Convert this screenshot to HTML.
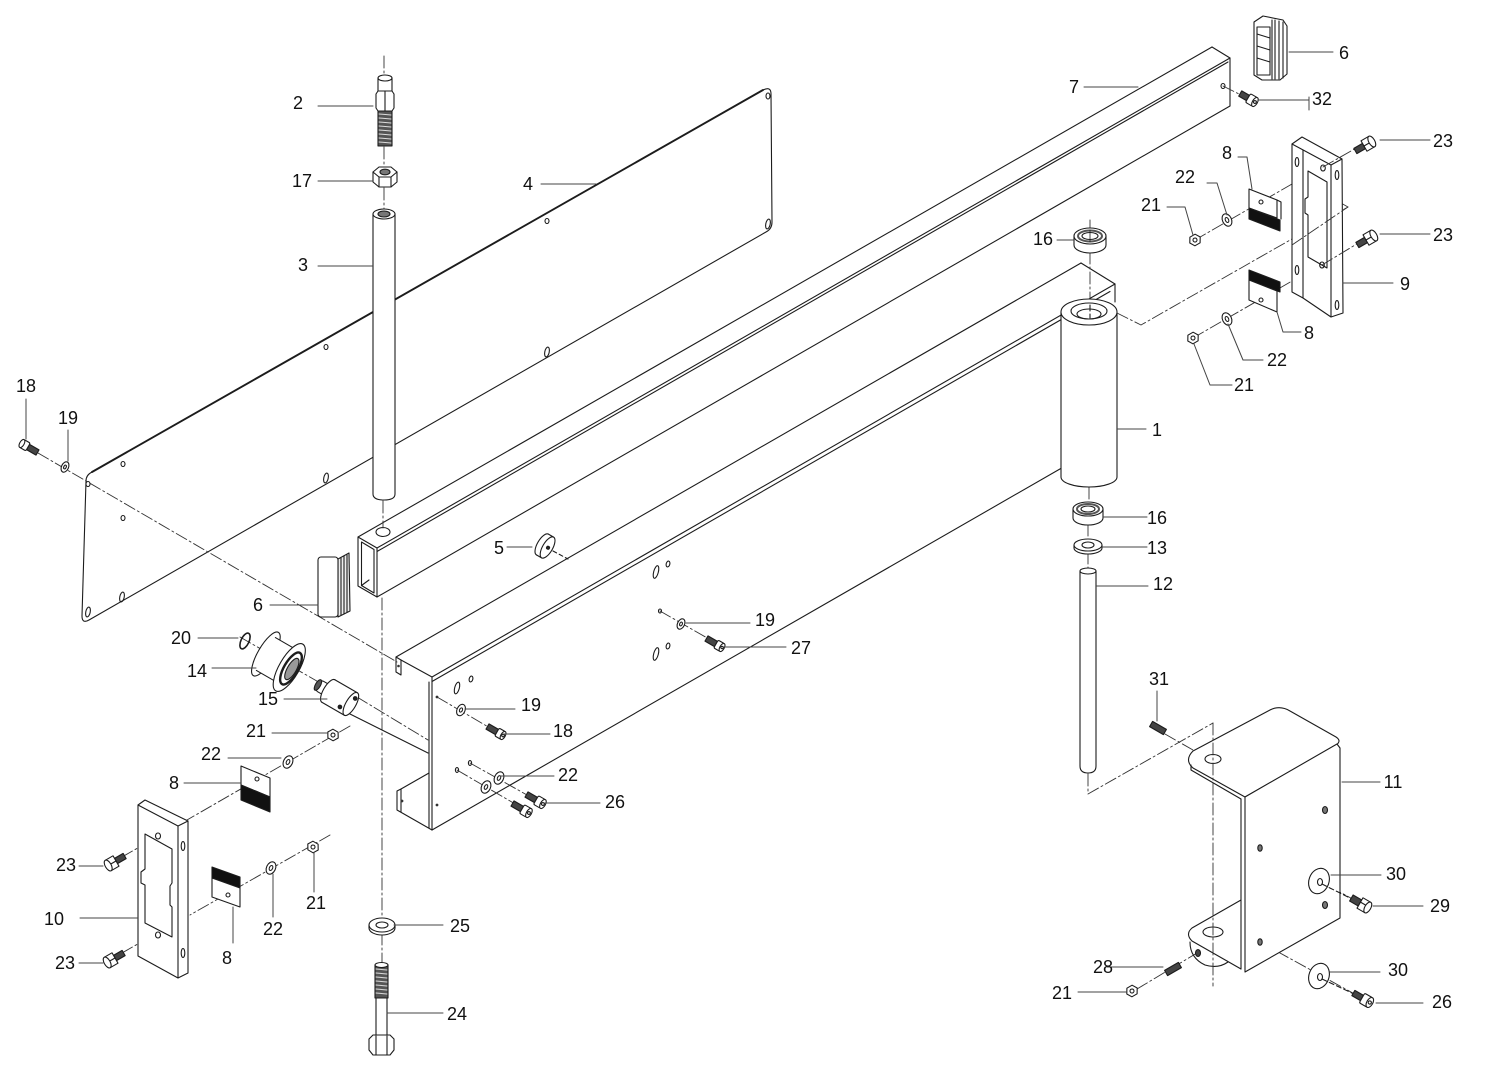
<!DOCTYPE html>
<html><head><meta charset="utf-8">
<style>html,body{margin:0;padding:0;background:#fff}svg{display:block}</style>
</head>
<body>
<svg width="1500" height="1086" viewBox="0 0 1500 1086" xmlns="http://www.w3.org/2000/svg">
<rect width="1500" height="1086" fill="#fff"/>
<g fill="none" stroke="#1c1c1c" stroke-width="1.1" stroke-linejoin="round" stroke-linecap="round">

<!-- Plate 4 -->
<path d="M92,472 L763,90 Q771,86 771,94 L772,222 Q772,229 766,232 L89,620 Q82,624 82,616 L86,481 Q86,475 92,472 Z" fill="#fff"/>
<path d="M92,472 L763,90" stroke-width="1.9"/>
<ellipse cx="123" cy="464" rx="2" ry="2.5"/>
<ellipse cx="123" cy="518" rx="2" ry="2.5"/>
<ellipse cx="326" cy="347" rx="2" ry="2.5"/>
<ellipse cx="326" cy="478" rx="2.2" ry="5" transform="rotate(12 326 478)"/>
<ellipse cx="547" cy="221" rx="2" ry="2.5"/>
<ellipse cx="547" cy="352" rx="2.2" ry="5" transform="rotate(12 547 352)"/>
<ellipse cx="768" cy="96" rx="2" ry="3"/>
<ellipse cx="768" cy="224" rx="2.2" ry="5" transform="rotate(12 768 224)"/>
<ellipse cx="122" cy="597" rx="2.2" ry="5" transform="rotate(12 122 597)"/>
<ellipse cx="88" cy="484" rx="2" ry="2.5"/>
<ellipse cx="88" cy="612" rx="2.2" ry="5" transform="rotate(12 88 612)"/>

<!-- Bar 7 -->
<line x1="358" y1="537" x2="1212" y2="47"/>
<line x1="377" y1="548" x2="1230" y2="58"/>
<line x1="377" y1="551.5" x2="1228" y2="62"/>
<line x1="377" y1="597" x2="1230" y2="106"/>
<path d="M1212,47 L1230,58 L1230,106"/>
<ellipse cx="1223" cy="86" rx="2" ry="2.5"/>
<path d="M358,537 L377,548 L377,597 L358,586 Z" fill="#fff"/>
<path d="M361.5,542 L374,549.5 L374,593 L361.5,585.5 Z"/>
<line x1="361.5" y1="585.5" x2="369" y2="580"/>
<ellipse cx="383" cy="532" rx="7" ry="4.5" fill="#fff"/>

<!-- Frame -->
<line x1="396" y1="657" x2="1081" y2="263"/>
<path d="M1081,263 L1115,284 L1115,302"/>
<line x1="432" y1="677" x2="1115" y2="284"/>
<line x1="432" y1="681.5" x2="1110" y2="291.5"/>
<line x1="432" y1="830" x2="1066" y2="465.5"/>
<path d="M396,657 L401,660 L401,675 L396,672 Z" fill="#fff"/>
<circle cx="398.5" cy="666" r="1.3" fill="#333" stroke="none"/>
<line x1="401" y1="660" x2="432" y2="677"/>
<line x1="432" y1="677" x2="432" y2="830"/>
<line x1="429" y1="682" x2="429" y2="828"/>
<path d="M429,773 L401,789 L397,791 L397,810 L432,830"/>
<line x1="401" y1="789" x2="401" y2="812"/>
<circle cx="402" cy="801" r="1.4" fill="#333" stroke="none"/>
<circle cx="437" cy="697" r="1.4" fill="#333" stroke="none"/>
<circle cx="437" cy="805" r="1.4" fill="#333" stroke="none"/>
<ellipse cx="457" cy="688" rx="2.3" ry="6" transform="rotate(15 457 688)"/>
<ellipse cx="471" cy="679" rx="1.8" ry="3" transform="rotate(15 471 679)"/>
<ellipse cx="656" cy="572" rx="2.3" ry="6.5" transform="rotate(15 656 572)"/>
<ellipse cx="668" cy="564" rx="1.8" ry="3" transform="rotate(15 668 564)"/>
<ellipse cx="656" cy="654" rx="2.3" ry="6.5" transform="rotate(15 656 654)"/>
<ellipse cx="668" cy="646" rx="1.8" ry="3" transform="rotate(15 668 646)"/>
<ellipse cx="660" cy="611" rx="1.5" ry="2"/>
<ellipse cx="457" cy="770" rx="1.6" ry="2.4"/>
<ellipse cx="470" cy="763" rx="1.6" ry="2.4"/>
<line x1="553" y1="551" x2="568" y2="559" stroke-dasharray="4 3"/>

<!-- Dash-dot centre lines -->
<g stroke="#333" stroke-width="0.9" stroke-dasharray="12 3 2 3">
  <line x1="384" y1="56" x2="384" y2="74"/>
  <line x1="384" y1="147" x2="384" y2="166"/>
  <line x1="384" y1="188" x2="384" y2="209"/>
  <line x1="383" y1="501" x2="383" y2="528"/>
  <line x1="382" y1="598" x2="382" y2="917"/>
  <line x1="382" y1="933" x2="382" y2="962"/>
  <line x1="38" y1="453" x2="397" y2="662"/>
  <line x1="240" y1="637" x2="322" y2="684"/>
  <line x1="357" y1="697" x2="428" y2="740"/>
  <line x1="350" y1="726" x2="187" y2="820"/>
  <line x1="330" y1="835" x2="190" y2="915"/>
  <line x1="122" y1="857" x2="157" y2="837"/>
  <line x1="122" y1="953" x2="157" y2="933"/>
  <line x1="437" y1="697" x2="497" y2="732"/>
  <line x1="457" y1="770" x2="522" y2="808"/>
  <line x1="470" y1="763" x2="536" y2="800"/>
  <line x1="660" y1="611" x2="716" y2="643"/>
  <line x1="1223" y1="86" x2="1245" y2="97"/>
  <line x1="1090" y1="220" x2="1090" y2="230"/>
  <line x1="1090" y1="252" x2="1090" y2="303"/>
  <line x1="1089" y1="487" x2="1089" y2="503"/>
  <line x1="1088" y1="524" x2="1088" y2="540"/>
  <line x1="1088" y1="552" x2="1088" y2="569"/>
  <line x1="1088" y1="774" x2="1088" y2="794"/>
  <line x1="1088" y1="794" x2="1213" y2="723"/>
  <line x1="1195" y1="240" x2="1292" y2="184"/>
  <line x1="1193" y1="338" x2="1292" y2="281"/>
  <line x1="1165" y1="734" x2="1193" y2="750"/>
  <line x1="1137" y1="989" x2="1197" y2="953"/>
  <line x1="1260" y1="848" x2="1358" y2="902"/>
  <line x1="1260" y1="942" x2="1360" y2="997"/>
</g>
<line x1="342" y1="710" x2="428" y2="753"/>

<!-- Pillar 1 -->
<path d="M1061,312 V477 A28,10 0 0 0 1117,477 V312 Z" fill="#fff"/>
<ellipse cx="1089" cy="312" rx="28" ry="13" fill="#fff"/>
<ellipse cx="1089" cy="311" rx="18" ry="8"/>
<ellipse cx="1089" cy="314" rx="12" ry="5"/>
<line x1="1090" y1="305" x2="1090" y2="318" stroke-dasharray="6 3"/>
<path d="M1117,313 L1141,325 L1348,207 L1310,186" stroke="#333" stroke-width="0.9" stroke-dasharray="12 3 2 3"/>

<!-- bearing 16 upper -->
<path d="M1074,236 V245 A16,8 0 0 0 1106,245 V236" fill="#fff"/>
<ellipse cx="1090" cy="236" rx="16" ry="8" fill="#fff"/>
<ellipse cx="1090" cy="236" rx="12" ry="5.5" stroke="#555" stroke-width="2"/>
<ellipse cx="1090" cy="236" rx="8" ry="3.5" fill="#fff"/>
<line x1="1090" y1="230" x2="1090" y2="242" stroke-width="0.8"/>

<!-- bearing 16 lower -->
<path d="M1073,509 V518 A15,7 0 0 0 1103,518 V509" fill="#fff"/>
<ellipse cx="1088" cy="509" rx="15" ry="7" fill="#fff"/>
<ellipse cx="1088" cy="509" rx="11" ry="5" stroke="#555" stroke-width="2"/>
<ellipse cx="1088" cy="509" rx="7" ry="3" fill="#fff"/>

<!-- washer 13 -->
<path d="M1074,545 V548 A14,6 0 0 0 1102,548 V545" fill="#fff"/>
<ellipse cx="1088" cy="545" rx="14" ry="6" fill="#fff"/>
<ellipse cx="1088" cy="545" rx="6" ry="3"/>

<!-- rod 12 -->
<path d="M1080,571 V766 Q1080,773 1088,773 Q1096,773 1096,766 V571" fill="#fff"/>
<ellipse cx="1088" cy="571" rx="8" ry="3" fill="#fff"/>

<!-- Rod 3, part 2, nut 17 -->
<path d="M373,214 L373,494 Q373,500 384,500 Q395,500 395,494 L395,214" fill="#fff"/>
<ellipse cx="384" cy="214" rx="11" ry="5" fill="#fff"/>
<ellipse cx="384" cy="214" rx="6" ry="3" fill="#777"/>
<path d="M378,78 L378,92 L392,92 L392,78" fill="#fff"/>
<ellipse cx="385" cy="78" rx="7" ry="3" fill="#fff"/>
<path d="M376,94 L378,91 L392,91 L394,94 L394,108 L392,111 L378,111 L376,108 Z" fill="#fff"/>
<line x1="385" y1="91" x2="385" y2="111"/>
<rect x="378" y="111" width="14" height="35" fill="#555"/>
<g stroke="#ddd" stroke-width="1">
<line x1="379" y1="114" x2="391" y2="115"/><line x1="379" y1="118" x2="391" y2="119"/>
<line x1="379" y1="122" x2="391" y2="123"/><line x1="379" y1="126" x2="391" y2="127"/>
<line x1="379" y1="130" x2="391" y2="131"/><line x1="379" y1="134" x2="391" y2="135"/>
<line x1="379" y1="138" x2="391" y2="139"/><line x1="379" y1="142" x2="391" y2="143"/>
</g>
<path d="M373,172 L379,167 L391,167 L397,172 L397,182 L391,187 L379,187 L373,182 Z" fill="#fff"/>
<path d="M373,172 L379,177 L391,177 L397,172"/>
<line x1="379" y1="177" x2="379" y2="187"/><line x1="391" y1="177" x2="391" y2="187"/>
<ellipse cx="385" cy="172" rx="5" ry="2.8" fill="#777"/>

<!-- washer 25 -->
<path d="M369,925 V928 A13,7 0 0 0 395,928 V925" fill="#fff"/>
<ellipse cx="382" cy="925" rx="13" ry="7" fill="#fff"/>
<ellipse cx="382" cy="925" rx="6" ry="3"/>

<!-- bolt 24 -->
<rect x="375" y="965" width="13" height="33" fill="#555"/>
<g stroke="#ddd" stroke-width="1">
<line x1="376" y1="969" x2="387" y2="970"/><line x1="376" y1="973" x2="387" y2="974"/>
<line x1="376" y1="977" x2="387" y2="978"/><line x1="376" y1="981" x2="387" y2="982"/>
<line x1="376" y1="985" x2="387" y2="986"/><line x1="376" y1="989" x2="387" y2="990"/>
<line x1="376" y1="993" x2="387" y2="994"/>
</g>
<ellipse cx="381.5" cy="965" rx="6.5" ry="2.5" fill="#fff"/>
<rect x="376" y="998" width="11" height="38" fill="#fff"/>
<path d="M369,1039 L373,1035 L390,1035 L394,1039 L394,1050 L390,1055 L373,1055 L369,1050 Z" fill="#fff"/>
<line x1="376" y1="1036" x2="376" y2="1055"/><line x1="387" y1="1036" x2="387" y2="1055"/>

<!-- Cap 6 left -->
<path d="M338,559 L349,553 L350,611 L338,617 Z" fill="#eee"/>
<line x1="341" y1="558" x2="341" y2="615"/><line x1="344" y1="556" x2="344" y2="614"/><line x1="347" y1="555" x2="347" y2="612"/>
<rect x="318" y="557" width="20" height="60" rx="3" fill="#fff"/>

<!-- Cap 6 top right -->
<path d="M1254,22 L1263,16 L1283,20 L1287,26 L1287,74 L1280,80 L1262,80 L1254,75 Z" fill="#fff"/>
<rect x="1257" y="27" width="13" height="48" fill="#fff"/>
<line x1="1257" y1="34" x2="1270" y2="38"/><line x1="1257" y1="46" x2="1270" y2="50"/><line x1="1257" y1="58" x2="1270" y2="62"/>
<line x1="1272" y1="20" x2="1272" y2="79"/><line x1="1275" y1="20" x2="1275" y2="79"/>
<line x1="1279" y1="21" x2="1279" y2="79"/><line x1="1283" y1="22" x2="1283" y2="78"/>

<!-- Bumper 5 -->
<g transform="translate(545,546) rotate(30)">
  <ellipse cx="-3" cy="0" rx="5" ry="12" fill="#fff"/>
  <rect x="-3" y="-12" width="6" height="24" fill="#fff" stroke="none"/>
  <line x1="-3" y1="-12" x2="3" y2="-12"/><line x1="-3" y1="12" x2="3" y2="12"/>
  <ellipse cx="3" cy="0" rx="5" ry="12" fill="#fff"/>
  <circle cx="3.5" cy="0" r="1.5" fill="#222"/>
</g>

<!-- Ring 20, pulley 14, bushing 15 -->
<ellipse cx="245" cy="641" rx="4" ry="8.5" transform="rotate(25 245 641)" stroke-width="1.6"/>
<g transform="translate(278,661) rotate(30)">
  <ellipse cx="-14" cy="0" rx="8" ry="25" fill="#fff"/>
  <rect x="-14" y="-19" width="28" height="38" fill="#fff" stroke="none"/>
  <line x1="-14" y1="-19" x2="12" y2="-19"/><line x1="-14" y1="19" x2="12" y2="19"/>
  <ellipse cx="13" cy="0" rx="10" ry="27" fill="#fff"/>
  <ellipse cx="15" cy="0" rx="7" ry="18" stroke-width="2.4"/>
  <ellipse cx="16" cy="0" rx="4.5" ry="12" fill="#999"/>
</g>
<g transform="translate(337,696) rotate(30)">
  <rect x="-22" y="-6" width="14" height="12" rx="3" fill="#fff"/>
  <ellipse cx="-22" cy="0" rx="2.5" ry="6" fill="#555"/>
  <ellipse cx="-10" cy="0" rx="5" ry="13" fill="#fff"/>
  <rect x="-10" y="-13" width="26" height="26" fill="#fff" stroke="none"/>
  <line x1="-10" y1="-13" x2="16" y2="-13"/><line x1="-10" y1="13" x2="16" y2="13"/>
  <ellipse cx="16" cy="0" rx="5" ry="13" fill="#fff"/>
  <circle cx="17" cy="-7" r="1.8" fill="#222"/>
  <circle cx="8" cy="8" r="1.8" fill="#222"/>
</g>

<!-- Left brushes, washers, nuts -->
<g transform="translate(333,735) rotate(30)"><polygon points="-6,0 -3,-5 3,-5 6,0 3,5 -3,5" fill="#fff"/><circle r="2"/></g>
<g transform="translate(313,847) rotate(30)"><polygon points="-6,0 -3,-5 3,-5 6,0 3,5 -3,5" fill="#fff"/><circle r="2"/></g>
<ellipse cx="288" cy="762" rx="4.5" ry="6.5" transform="rotate(25 288 762)" fill="#fff"/>
<ellipse cx="288" cy="762" rx="1.6" ry="2.6" transform="rotate(25 288 762)"/>
<ellipse cx="271" cy="868" rx="4.5" ry="6.5" transform="rotate(25 271 868)" fill="#fff"/>
<ellipse cx="271" cy="868" rx="1.6" ry="2.6" transform="rotate(25 271 868)"/>
<path d="M241,766 L270,778 L270,797 L241,785 Z" fill="#fff"/>
<path d="M241,785 L270,797 L270,812 L241,800 Z" fill="#111"/>
<circle cx="257" cy="779" r="2"/>
<path d="M212,867 L240,877 L240,888 L212,878 Z" fill="#111"/>
<path d="M212,878 L240,888 L240,907 L212,897 Z" fill="#fff"/>
<circle cx="228" cy="895" r="2"/>

<!-- Bracket 10 -->
<path d="M138,805 L145,800 L188,821 L188,973 L178,978 L138,956 Z" fill="#fff"/>
<path d="M138,805 L178,826 L188,821"/>
<line x1="178" y1="826" x2="178" y2="978"/>
<path d="M145,834 L172,849 L172,883 L170,886 L170,905 L172,907 L172,937 L145,923 L145,885 L141,883 L141,872 L145,869 Z"/>
<ellipse cx="158" cy="836" rx="2.5" ry="3"/>
<ellipse cx="158" cy="935" rx="2.5" ry="3"/>
<ellipse cx="183" cy="846" rx="1.8" ry="4.5"/>
<ellipse cx="183" cy="953" rx="1.8" ry="4.5"/>

<!-- Right brushes 8, washers, nuts -->
<g transform="translate(1195,240) rotate(-30)"><polygon points="-6,0 -3,-5 3,-5 6,0 3,5 -3,5" fill="#fff"/><circle r="2"/></g>
<g transform="translate(1193,338) rotate(-30)"><polygon points="-6,0 -3,-5 3,-5 6,0 3,5 -3,5" fill="#fff"/><circle r="2"/></g>
<ellipse cx="1227" cy="220" rx="4.5" ry="6.5" transform="rotate(-25 1227 220)" fill="#fff"/>
<ellipse cx="1227" cy="220" rx="1.6" ry="2.6" transform="rotate(-25 1227 220)"/>
<ellipse cx="1227" cy="319" rx="4.5" ry="6.5" transform="rotate(-25 1227 319)" fill="#fff"/>
<ellipse cx="1227" cy="319" rx="1.6" ry="2.6" transform="rotate(-25 1227 319)"/>
<path d="M1249,189 L1277,200 L1277,218 L1249,208 Z" fill="#fff"/>
<path d="M1277,200 L1281,202 L1281,219"/>
<path d="M1249,208 L1280,220 L1280,231 L1249,219 Z" fill="#111"/>
<circle cx="1261" cy="202" r="2"/>
<path d="M1249,270 L1280,282 L1280,292 L1249,280 Z" fill="#111"/>
<path d="M1249,280 L1277,291 L1277,312 L1249,300 Z" fill="#fff"/>
<circle cx="1261" cy="300" r="2"/>

<!-- Bracket 9 -->
<path d="M1292,144 L1302,137 L1342,159 L1343,313 L1331,317 L1303,298 L1292,292 Z" fill="#fff"/>
<path d="M1292,144 L1331,165 L1342,159"/>
<line x1="1331" y1="165" x2="1331" y2="317"/>
<line x1="1303" y1="150" x2="1303" y2="298"/>
<path d="M1308,171 L1327,182 L1327,268 L1308,257 L1308,215 L1305,213 L1305,199 L1308,197 Z"/>
<ellipse cx="1297" cy="162" rx="1.8" ry="4.5"/>
<ellipse cx="1297" cy="270" rx="1.8" ry="4.5"/>
<ellipse cx="1337" cy="175" rx="1.8" ry="4.5"/>
<ellipse cx="1337" cy="305" rx="1.8" ry="4.5"/>
<ellipse cx="1323" cy="168" rx="2.3" ry="3"/>
<ellipse cx="1322" cy="265" rx="2.3" ry="3"/>
<g stroke="#333" stroke-width="0.9" stroke-dasharray="12 3 2 3">
  <line x1="1323" y1="167" x2="1358" y2="147"/>
  <line x1="1322" y1="265" x2="1360" y2="242"/>
  <line x1="1292" y1="245" x2="1348" y2="207"/>
</g>

<!-- Bracket 11 -->
<path d="M1193,751 L1270,710 Q1280,705 1290,711 L1336,737 Q1342,741 1336,745 L1245,797 L1193,768 Q1184,760 1193,751 Z" fill="#fff"/>
<path d="M1191,765 L1191,770 L1241,799"/>
<path d="M1245,797 L1337,744 L1340,748 L1340,918 L1245,972 Z" fill="#fff"/>
<line x1="1241" y1="799" x2="1241" y2="969"/>
<path d="M1241,900 L1192,928 Q1185,934 1192,941 L1241,969"/>
<path d="M1190,942 Q1190,958 1205,965 Q1218,969 1228,962"/>
<ellipse cx="1198" cy="953" rx="2.5" ry="3.5" fill="#444"/>
<ellipse cx="1213" cy="759" rx="8" ry="4.5"/>
<ellipse cx="1213" cy="932" rx="10" ry="5"/>
<ellipse cx="1325" cy="810" rx="2.5" ry="3.5" fill="#777"/>
<ellipse cx="1260" cy="848" rx="2.2" ry="3.2" fill="#777"/>
<ellipse cx="1325" cy="905" rx="2.5" ry="3.5" fill="#777"/>
<ellipse cx="1260" cy="942" rx="2.2" ry="3.2" fill="#777"/>
<line x1="1213" y1="723" x2="1213" y2="986" stroke="#333" stroke-width="0.9" stroke-dasharray="12 3 2 3"/>
<ellipse cx="1319" cy="881" rx="10" ry="13" transform="rotate(20 1319 881)" fill="#fff"/>
<ellipse cx="1320" cy="882" rx="2.5" ry="3.5"/>
<ellipse cx="1319" cy="976" rx="10" ry="13" transform="rotate(20 1319 976)" fill="#fff"/>
<ellipse cx="1320" cy="977" rx="2.5" ry="3.5"/>
<line x1="1322" y1="884" x2="1352" y2="899" stroke-dasharray="5 3"/>
<line x1="1322" y1="979" x2="1354" y2="994" stroke-dasharray="5 3"/>

<!-- Screws -->
<g transform="translate(28,447) rotate(210)">
  <rect x="-11" y="-3" width="11" height="6" fill="#444"/>
  <rect x="0" y="-4.5" width="7" height="9" rx="1.5" fill="#fff"/>
  <ellipse cx="7" cy="0" rx="2.2" ry="4.5" fill="#fff"/>
</g>
<ellipse cx="65" cy="467" rx="3.5" ry="5.5" transform="rotate(25 65 467)" fill="#fff"/>
<ellipse cx="65" cy="467" rx="1.2" ry="2" transform="rotate(25 65 467)"/>
<ellipse cx="461" cy="710" rx="4" ry="6" transform="rotate(25 461 710)" fill="#fff"/>
<ellipse cx="461" cy="710" rx="1.4" ry="2.2" transform="rotate(25 461 710)"/>
<g transform="translate(497,732) rotate(30)">
  <rect x="-11" y="-3" width="11" height="6" fill="#444"/>
  <rect x="0" y="-4.5" width="7" height="9" rx="1.5" fill="#fff"/>
  <ellipse cx="7" cy="0" rx="2.2" ry="4.5" fill="#fff"/><circle cx="7" cy="0" r="1.3"/>
</g>
<ellipse cx="486" cy="787" rx="4.5" ry="6.5" transform="rotate(25 486 787)" fill="#fff"/>
<ellipse cx="486" cy="787" rx="1.5" ry="2.5" transform="rotate(25 486 787)"/>
<ellipse cx="499" cy="778" rx="4.5" ry="6.5" transform="rotate(25 499 778)" fill="#fff"/>
<ellipse cx="499" cy="778" rx="1.5" ry="2.5" transform="rotate(25 499 778)"/>
<g transform="translate(522,809) rotate(30)">
  <rect x="-11" y="-3" width="11" height="6" fill="#444"/>
  <rect x="0" y="-5" width="8" height="10" rx="1.5" fill="#fff"/>
  <ellipse cx="8" cy="0" rx="2.5" ry="5" fill="#fff"/><circle cx="8" cy="0" r="1.4"/>
</g>
<g transform="translate(536,800) rotate(30)">
  <rect x="-11" y="-3" width="11" height="6" fill="#444"/>
  <rect x="0" y="-5" width="8" height="10" rx="1.5" fill="#fff"/>
  <ellipse cx="8" cy="0" rx="2.5" ry="5" fill="#fff"/><circle cx="8" cy="0" r="1.4"/>
</g>
<ellipse cx="681" cy="624" rx="3.5" ry="5.5" transform="rotate(25 681 624)" fill="#fff"/>
<ellipse cx="681" cy="624" rx="1.3" ry="2" transform="rotate(25 681 624)"/>
<g transform="translate(716,644) rotate(30)">
  <rect x="-11" y="-3" width="11" height="6" fill="#444"/>
  <rect x="0" y="-4.5" width="7" height="9" rx="1.5" fill="#fff"/>
  <ellipse cx="7" cy="0" rx="2.2" ry="4.5" fill="#fff"/><circle cx="7" cy="0" r="1.2"/>
</g>
<g transform="translate(1248,98) rotate(30)">
  <rect x="-9" y="-3" width="9" height="6" fill="#444"/>
  <rect x="0" y="-5" width="8" height="10" rx="1.5" fill="#fff"/>
  <ellipse cx="8" cy="0" rx="2.5" ry="5" fill="#fff"/><circle cx="8" cy="0" r="1.4"/>
</g>
<g transform="translate(1362,998) rotate(30)">
  <rect x="-10" y="-3" width="10" height="6" fill="#444"/>
  <rect x="0" y="-5.5" width="9" height="11" rx="1.5" fill="#fff"/>
  <ellipse cx="9" cy="0" rx="3" ry="5.5" fill="#fff"/><circle cx="9" cy="0" r="1.6"/>
</g>
<g transform="translate(1360,903) rotate(30)">
  <rect x="-10" y="-3.5" width="10" height="7" fill="#444"/>
  <rect x="0" y="-6" width="9" height="12" fill="#fff"/>
  <line x1="0" y1="-1" x2="9" y2="-1"/>
  <ellipse cx="9" cy="0" rx="3" ry="6" fill="#fff"/>
</g>
<g transform="translate(1364,146) rotate(-30)">
  <rect x="-10" y="-3" width="10" height="6" fill="#444"/>
  <rect x="0" y="-6" width="9" height="12" fill="#fff"/>
  <line x1="0" y1="0" x2="9" y2="0"/>
  <ellipse cx="9" cy="0" rx="3" ry="6" fill="#fff"/>
</g>
<g transform="translate(1366,240) rotate(-30)">
  <rect x="-10" y="-3" width="10" height="6" fill="#444"/>
  <rect x="0" y="-6" width="9" height="12" fill="#fff"/>
  <line x1="0" y1="0" x2="9" y2="0"/>
  <ellipse cx="9" cy="0" rx="3" ry="6" fill="#fff"/>
</g>
<g transform="translate(116,861) rotate(150)">
  <rect x="-10" y="-3" width="10" height="6" fill="#444"/>
  <rect x="0" y="-6" width="9" height="12" fill="#fff"/>
  <line x1="0" y1="0" x2="9" y2="0"/>
  <ellipse cx="9" cy="0" rx="3" ry="6" fill="#fff"/>
</g>
<g transform="translate(115,958) rotate(150)">
  <rect x="-10" y="-3" width="10" height="6" fill="#444"/>
  <rect x="0" y="-6" width="9" height="12" fill="#fff"/>
  <line x1="0" y1="0" x2="9" y2="0"/>
  <ellipse cx="9" cy="0" rx="3" ry="6" fill="#fff"/>
</g>
<g transform="translate(1158,728) rotate(30)"><rect x="-8" y="-3" width="16" height="6" fill="#444"/></g>
<g transform="translate(1173,969) rotate(-30)"><rect x="-8" y="-3" width="16" height="6" fill="#444"/></g>
<g transform="translate(1132,991) rotate(-30)"><polygon points="-6,0 -3,-5 3,-5 6,0 3,5 -3,5" fill="#fff"/><circle r="2"/></g>

<!-- Leader lines -->
<g stroke="#444" stroke-width="1">
<line x1="318" y1="106" x2="373" y2="106"/>
<line x1="318" y1="181" x2="372" y2="181"/>
<line x1="318" y1="266" x2="372" y2="266"/>
<line x1="541" y1="184" x2="596" y2="184"/>
<line x1="1084" y1="87" x2="1138" y2="87"/>
<line x1="1289" y1="52" x2="1333" y2="52"/>
<line x1="1258" y1="100" x2="1309" y2="100"/><line x1="1309" y1="97" x2="1309" y2="110"/>
<line x1="1380" y1="140" x2="1430" y2="140"/>
<line x1="1380" y1="234" x2="1430" y2="234"/>
<polyline points="1238,157 1247,157 1252,189"/>
<polyline points="1207,183 1217,183 1227,215"/>
<polyline points="1167,207 1185,207 1193,235"/>
<line x1="1057" y1="240" x2="1073" y2="240"/>
<line x1="1343" y1="283" x2="1393" y2="283"/>
<polyline points="1277,312 1283,332 1301,332"/>
<polyline points="1228,324 1243,360 1263,360"/>
<polyline points="1194,344 1210,385 1232,385"/>
<line x1="1118" y1="429" x2="1146" y2="429"/>
<line x1="26" y1="399" x2="26" y2="439"/>
<line x1="68" y1="430" x2="68" y2="461"/>
<line x1="1104" y1="517" x2="1147" y2="517"/>
<line x1="1102" y1="547" x2="1147" y2="547"/>
<line x1="507" y1="547" x2="532" y2="547"/>
<line x1="1097" y1="586" x2="1148" y2="586"/>
<line x1="270" y1="605" x2="318" y2="605"/>
<line x1="686" y1="623" x2="750" y2="623"/>
<line x1="724" y1="647" x2="786" y2="647"/>
<line x1="198" y1="638" x2="238" y2="638"/>
<line x1="212" y1="668" x2="256" y2="668"/>
<line x1="284" y1="699" x2="327" y2="699"/>
<line x1="1157" y1="691" x2="1157" y2="721"/>
<line x1="465" y1="709" x2="515" y2="709"/>
<line x1="504" y1="734" x2="550" y2="734"/>
<line x1="272" y1="733" x2="328" y2="733"/>
<line x1="228" y1="758" x2="281" y2="758"/>
<line x1="500" y1="776" x2="554" y2="776"/>
<line x1="184" y1="783" x2="240" y2="783"/>
<line x1="1342" y1="782" x2="1380" y2="782"/>
<line x1="545" y1="803" x2="600" y2="803"/>
<line x1="79" y1="866" x2="103" y2="866"/>
<line x1="1331" y1="875" x2="1381" y2="875"/>
<line x1="314" y1="853" x2="314" y2="892"/>
<line x1="80" y1="918" x2="137" y2="918"/>
<line x1="1373" y1="906" x2="1423" y2="906"/>
<line x1="273" y1="874" x2="273" y2="917"/>
<line x1="394" y1="925" x2="443" y2="925"/>
<line x1="233" y1="907" x2="233" y2="943"/>
<line x1="79" y1="963" x2="103" y2="963"/>
<line x1="1107" y1="967" x2="1163" y2="967"/>
<line x1="1330" y1="972" x2="1380" y2="972"/>
<line x1="1078" y1="992" x2="1126" y2="992"/>
<line x1="1376" y1="1003" x2="1423" y2="1003"/>
<line x1="387" y1="1013" x2="443" y2="1013"/>
</g>
</g>

<!-- Labels -->
<g font-family="'Liberation Sans', Arial, sans-serif" font-size="18" fill="#111" text-anchor="middle">
<text x="298" y="109">2</text>
<text x="302" y="187">17</text>
<text x="303" y="271">3</text>
<text x="528" y="190">4</text>
<text x="1074" y="93">7</text>
<text x="1344" y="59">6</text>
<text x="1322" y="105">32</text>
<text x="1443" y="147">23</text>
<text x="1227" y="159">8</text>
<text x="1185" y="183">22</text>
<text x="1151" y="211">21</text>
<text x="1043" y="245">16</text>
<text x="1443" y="241">23</text>
<text x="1405" y="290">9</text>
<text x="1309" y="339">8</text>
<text x="1277" y="366">22</text>
<text x="1244" y="391">21</text>
<text x="1157" y="436">1</text>
<text x="26" y="392">18</text>
<text x="68" y="424">19</text>
<text x="1157" y="524">16</text>
<text x="1157" y="554">13</text>
<text x="499" y="554">5</text>
<text x="1163" y="590">12</text>
<text x="258" y="611">6</text>
<text x="765" y="626">19</text>
<text x="801" y="654">27</text>
<text x="181" y="644">20</text>
<text x="197" y="677">14</text>
<text x="268" y="705">15</text>
<text x="1159" y="685">31</text>
<text x="531" y="711">19</text>
<text x="563" y="737">18</text>
<text x="256" y="737">21</text>
<text x="211" y="760">22</text>
<text x="568" y="781">22</text>
<text x="174" y="789">8</text>
<text x="1393" y="788">11</text>
<text x="615" y="808">26</text>
<text x="66" y="871">23</text>
<text x="1396" y="880">30</text>
<text x="316" y="909">21</text>
<text x="54" y="925">10</text>
<text x="1440" y="912">29</text>
<text x="273" y="935">22</text>
<text x="460" y="932">25</text>
<text x="227" y="964">8</text>
<text x="65" y="969">23</text>
<text x="1103" y="973">28</text>
<text x="1398" y="976">30</text>
<text x="1062" y="999">21</text>
<text x="1442" y="1008">26</text>
<text x="457" y="1020">24</text>
</g>
</svg>
</body>
</html>
